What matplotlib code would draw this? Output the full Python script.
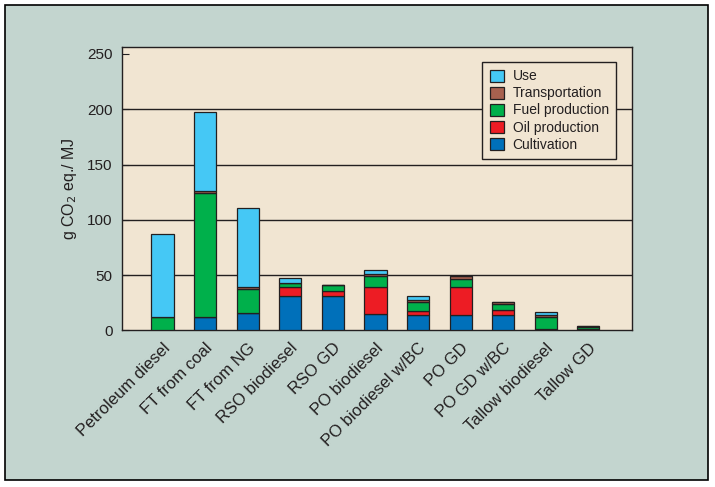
import numpy as np
import matplotlib
matplotlib.use('Agg')
import matplotlib.pyplot as plt
from matplotlib.patches import Rectangle

plt.rcParams['font.family'] = ['Liberation Sans', 'DejaVu Sans']

fuels = ['Petroleum diesel', 'FT from coal', 'FT from NG', 'RSO biodiesel', 'RSO GD',
         'PO biodiesel', 'PO biodiesel w/BC', 'PO GD', 'PO GD w/BC', 'Tallow biodiesel', 'Tallow GD']
cultivation = [0, 11.8, 15.4, 31.0, 31.0, 14.7, 13.6, 13.6, 13.6, 0, 0]
oil_prod = [0, 0, 0, 8.0, 4.3, 24.2, 3.6, 25.3, 4.5, 1.5, 1.5]
fuel_prod = [11.8, 112.2, 21.7, 3.9, 5.4, 10.0, 8.1, 7.3, 5.4, 11.0, 1.5]
transport = [0, 1.8, 1.8, 0, 0, 1.8, 2.1, 2.7, 1.8, 1.8, 1.5]
use = [75.1, 71.5, 71.5, 4.2, 0, 3.6, 3.4, 0, 0, 2.7, 0]
yticks = [0, 50, 100, 150, 200, 250]

series = [('Cultivation', cultivation, '#0070BA'),
          ('Oil production', oil_prod, '#ED1C24'),
          ('Fuel production', fuel_prod, '#00B04B'),
          ('Transportation', transport, '#A8614F'),
          ('Use', use, '#45C8F5')]

ink = '#231F20'
fig = plt.figure(figsize=(7.15, 4.87), dpi=100, facecolor='white')
fig.patches.append(Rectangle((0.007, 0.0144), 0.9836, 0.9753, transform=fig.transFigure,
                             facecolor='#C3D5CF', edgecolor='black', lw=1.2, zorder=-10))
ax = fig.add_axes([0.1713, 0.3214, 0.713, 0.5815])
ax.set_facecolor('#F1E5D2')

x = np.arange(len(fuels))
for yv in yticks[1:-1]:
    ax.axhline(yv, color=ink, lw=1.0, zorder=1)

bottom = np.zeros(len(fuels))
handles = []
for name, vals, col in series:
    b = ax.bar(x, vals, 0.52, bottom=bottom, color=col, edgecolor=ink, linewidth=0.9, label=name, zorder=3)
    handles.append(b)
    bottom += np.array(vals)

ax.set_xlim(-0.94, 11.03)
ax.set_ylim(0, 256)
ax.set_yticks(yticks)
ax.tick_params(axis='y', direction='in', length=5, width=0.8, color=ink, labelsize=11, labelcolor=ink, pad=7)
ax.set_xticks(x)
ax.set_xticklabels(fuels, rotation=45, ha='right', va='top', rotation_mode='anchor', fontsize=12, color=ink)
ax.tick_params(axis='x', length=0, pad=7)
for s in ax.spines.values():
    s.set_color(ink)
    s.set_linewidth(1.0)
ax.set_ylabel('g CO$_2$ eq./ MJ', fontsize=11.5, color=ink, labelpad=6)

leg = ax.legend(handles[::-1], [s[0] for s in series][::-1], loc='upper right',
                bbox_to_anchor=(0.9686, 0.949), borderaxespad=0, fontsize=10,
                fancybox=False, edgecolor=ink, facecolor='#F1E5D2', framealpha=1,
                handlelength=1.05, handleheight=0.95, labelspacing=0.22, handletextpad=0.6,
                borderpad=0.55)
leg.get_frame().set_linewidth(1.0)
for t in leg.get_texts():
    t.set_color(ink)

fig.savefig('out.png', dpi=100, facecolor=fig.get_facecolor())
